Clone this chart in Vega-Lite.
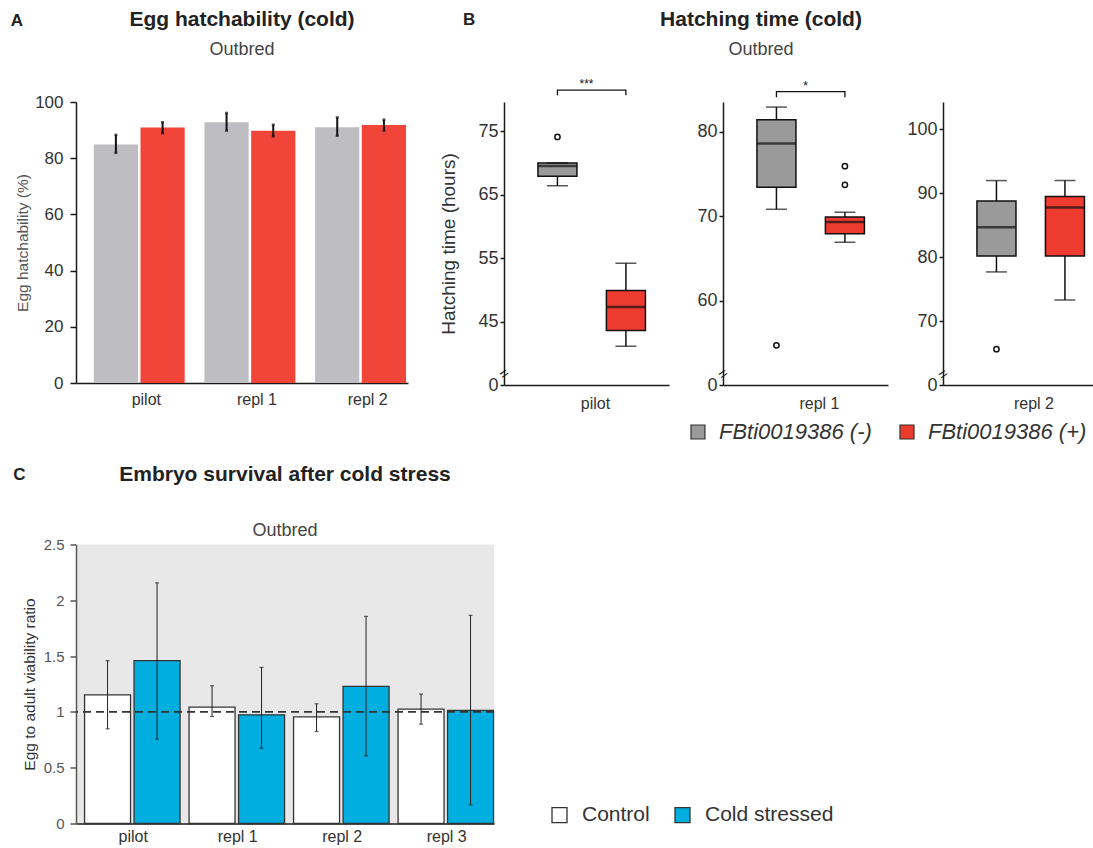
{
  "$schema": "https://vega.github.io/schema/vega-lite/v6.json",
  "background": "white",
  "padding": {"left": 10, "top": 8, "right": 0, "bottom": 0},
  "config": {
    "font": "Liberation Sans",
    "view": {"stroke": null},
    "axis": {"grid": false, "domainColor": "#1a1a1a", "tickColor": "#1a1a1a", "labelColor": "#333333", "titleColor": "#333333", "titleFontWeight": "normal", "domainWidth": 1.5, "tickWidth": 1.5},
    "title": {"color": "#222222", "subtitleColor": "#444444"}
  },
  "datasets": {
    "hatch": [
      {"replicate": "pilot", "genotype": "FBti0019386 (-)", "mean": 84.9, "lo": 81.9, "hi": 88.3},
      {"replicate": "pilot", "genotype": "FBti0019386 (+)", "mean": 90.9, "lo": 88.9, "hi": 92.8},
      {"replicate": "repl 1", "genotype": "FBti0019386 (-)", "mean": 92.8, "lo": 89.8, "hi": 96.1},
      {"replicate": "repl 1", "genotype": "FBti0019386 (+)", "mean": 89.8, "lo": 87.8, "hi": 91.9},
      {"replicate": "repl 2", "genotype": "FBti0019386 (-)", "mean": 91.0, "lo": 88.0, "hi": 94.5},
      {"replicate": "repl 2", "genotype": "FBti0019386 (+)", "mean": 91.8, "lo": 89.8, "hi": 93.7}
    ],
    "boxes": [
      {"replicate": "pilot", "genotype": "FBti0019386 (-)", "lower": 66.4, "q1": 67.9, "median": 69.5, "q3": 70.0, "upper": 70.0},
      {"replicate": "pilot", "genotype": "FBti0019386 (+)", "lower": 41.1, "q1": 43.6, "median": 47.3, "q3": 49.9, "upper": 54.2},
      {"replicate": "repl 1", "genotype": "FBti0019386 (-)", "lower": 70.8, "q1": 73.4, "median": 78.6, "q3": 81.4, "upper": 82.9},
      {"replicate": "repl 1", "genotype": "FBti0019386 (+)", "lower": 66.9, "q1": 67.9, "median": 69.3, "q3": 69.9, "upper": 70.45},
      {"replicate": "repl 2", "genotype": "FBti0019386 (-)", "lower": 77.7, "q1": 80.2, "median": 84.7, "q3": 88.8, "upper": 92.0},
      {"replicate": "repl 2", "genotype": "FBti0019386 (+)", "lower": 73.3, "q1": 80.2, "median": 87.8, "q3": 89.5, "upper": 92.0}
    ],
    "outliers": [
      {"replicate": "pilot", "genotype": "FBti0019386 (-)", "value": 74.1},
      {"replicate": "repl 1", "genotype": "FBti0019386 (-)", "value": 54.7},
      {"replicate": "repl 1", "genotype": "FBti0019386 (+)", "value": 75.9},
      {"replicate": "repl 1", "genotype": "FBti0019386 (+)", "value": 73.7},
      {"replicate": "repl 2", "genotype": "FBti0019386 (-)", "value": 65.6}
    ],
    "bracket": [
      {"replicate": "pilot", "genotype": "FBti0019386 (-)", "y": 80.67, "step": 1},
      {"replicate": "pilot", "genotype": "FBti0019386 (-)", "y": 81.46, "step": 2},
      {"replicate": "pilot", "genotype": "FBti0019386 (+)", "y": 81.46, "step": 3},
      {"replicate": "pilot", "genotype": "FBti0019386 (+)", "y": 80.67, "step": 4},
      {"replicate": "repl 1", "genotype": "FBti0019386 (-)", "y": 84.06, "step": 1},
      {"replicate": "repl 1", "genotype": "FBti0019386 (-)", "y": 84.73, "step": 2},
      {"replicate": "repl 1", "genotype": "FBti0019386 (+)", "y": 84.73, "step": 3},
      {"replicate": "repl 1", "genotype": "FBti0019386 (+)", "y": 84.06, "step": 4}
    ],
    "stars": [
      {"replicate": "pilot", "label": "***", "y": 82.4},
      {"replicate": "repl 1", "label": "*", "y": 85.4}
    ],
    "breaks": [
      {"replicate": "pilot", "y": 36.8},
      {"replicate": "repl 1", "y": 51.3},
      {"replicate": "repl 2", "y": 61.7}
    ],
    "survival": [
      {"replicate": "pilot", "treatment": "Control", "ratio": 1.153, "lo": 0.848, "hi": 1.459},
      {"replicate": "pilot", "treatment": "Cold stressed", "ratio": 1.459, "lo": 0.756, "hi": 2.156},
      {"replicate": "repl 1", "treatment": "Control", "ratio": 1.043, "lo": 0.959, "hi": 1.234},
      {"replicate": "repl 1", "treatment": "Cold stressed", "ratio": 0.974, "lo": 0.675, "hi": 1.399},
      {"replicate": "repl 2", "treatment": "Control", "ratio": 0.956, "lo": 0.824, "hi": 1.073},
      {"replicate": "repl 2", "treatment": "Cold stressed", "ratio": 1.228, "lo": 0.606, "hi": 1.856},
      {"replicate": "repl 3", "treatment": "Control", "ratio": 1.025, "lo": 0.890, "hi": 1.160},
      {"replicate": "repl 3", "treatment": "Cold stressed", "ratio": 1.013, "lo": 0.166, "hi": 1.865}
    ],
    "reference": [{"ratio": 1}]
  },
  "vconcat": [
    {
      "hconcat": [
        {
          "title": {"text": "A", "anchor": "start", "frame": "bounds", "offset": -21, "dx": -5, "fontSize": 17, "fontWeight": "bold", "color": "#222222"},
          "resolve": {"scale": {"fill": "independent", "xOffset": "independent"}, "legend": {"fill": "independent"}},
          "vconcat": [
            {
              "width": 332,
              "height": 281,
              "title": {"text": "Egg hatchability (cold)", "subtitle": "Outbred", "fontSize": 21, "fontWeight": "bold", "subtitleFontSize": 18, "subtitlePadding": 11, "offset": 34.5, "anchor": "middle", "frame": "group"},
              "data": {"name": "hatch"},
              "layer": [
                {
                  "mark": {"type": "bar"},
                  "encoding": {
                    "x": {"field": "replicate", "type": "nominal", "title": null, "scale": {"type": "band", "paddingInner": 0, "paddingOuter": 0}, "axis": {"labelAngle": 0, "ticks": false, "labelFontSize": 16, "labelPadding": 8, "labelOffset": 15}},
                    "xOffset": {"field": "genotype", "type": "nominal", "scale": {"domain": ["FBti0019386 (-)", "FBti0019386 (+)"], "range": [0, 110.67], "paddingInner": 0.0535, "paddingOuter": 0.2117, "align": 0.9}},
                    "y": {"field": "mean", "type": "quantitative", "stack": null, "title": "Egg hatchability (%)", "scale": {"domain": [0, 100], "nice": false}, "axis": {"values": [0, 20, 40, 60, 80, 100], "labelFontSize": 17, "tickSize": 6, "labelPadding": 7, "titleFontSize": 15.5, "titleColor": "#555555", "titlePadding": 4}},
                    "y2": {"datum": 0},
                    "fill": {"field": "genotype", "type": "nominal", "scale": {"domain": ["FBti0019386 (-)", "FBti0019386 (+)"], "range": ["#bebec2", "#f1453a"]}, "legend": null}
                  }
                },
                {
                  "mark": {"type": "rule", "color": "#111111", "strokeWidth": 2},
                  "encoding": {
                    "x": {"field": "replicate", "type": "nominal", "title": null, "scale": {"type": "band", "paddingInner": 0, "paddingOuter": 0}},
                    "xOffset": {"field": "genotype", "type": "nominal", "scale": {"domain": ["FBti0019386 (-)", "FBti0019386 (+)"], "range": [0, 110.67], "paddingInner": 0.0535, "paddingOuter": 0.2117, "align": 0.9}},
                    "y": {"field": "lo", "type": "quantitative", "title": "Egg hatchability (%)"},
                    "y2": {"field": "hi"}
                  }
                },
                {
                  "mark": {"type": "tick", "orient": "horizontal", "size": 3, "thickness": 2.5, "color": "#111111"},
                  "encoding": {
                    "x": {"field": "replicate", "type": "nominal", "title": null, "scale": {"type": "band", "paddingInner": 0, "paddingOuter": 0}},
                    "xOffset": {"field": "genotype", "type": "nominal", "scale": {"domain": ["FBti0019386 (-)", "FBti0019386 (+)"], "range": [0, 110.67], "paddingInner": 0.0535, "paddingOuter": 0.2117, "align": 0.9}},
                    "y": {"field": "lo", "type": "quantitative", "title": "Egg hatchability (%)"}
                  }
                },
                {
                  "mark": {"type": "tick", "orient": "horizontal", "size": 3, "thickness": 2.5, "color": "#111111"},
                  "encoding": {
                    "x": {"field": "replicate", "type": "nominal", "title": null, "scale": {"type": "band", "paddingInner": 0, "paddingOuter": 0}},
                    "xOffset": {"field": "genotype", "type": "nominal", "scale": {"domain": ["FBti0019386 (-)", "FBti0019386 (+)"], "range": [0, 110.67], "paddingInner": 0.0535, "paddingOuter": 0.2117, "align": 0.9}},
                    "y": {"field": "hi", "type": "quantitative", "title": "Egg hatchability (%)"}
                  }
                }
              ]
            }
          ]
        },
        {
          "title": {"text": "B", "anchor": "start", "frame": "bounds", "offset": -20, "dx": 24, "fontSize": 17, "fontWeight": "bold", "color": "#222222"},
          "resolve": {"scale": {"fill": "independent", "xOffset": "independent"}, "legend": {"fill": "independent"}},
          "vconcat": [
            {
              "title": {"text": "Hatching time (cold)", "subtitle": "Outbred", "fontSize": 21, "fontWeight": "bold", "subtitleFontSize": 18, "subtitlePadding": 11, "offset": 19.5, "anchor": "middle", "frame": "bounds", "dx": -8},
              "spacing": 18,
              "resolve": {"scale": {"y": "independent", "x": "independent", "xOffset": "independent", "fill": "shared"}, "legend": {"fill": "shared"}},
              "hconcat": [
                {
                  "width": 165,
                  "height": 283,
                  "layer": [
                    {
                      "data": {"name": "boxes"}, "transform": [{"filter": "datum.replicate == 'pilot'"}],
                      "mark": {"type": "rule", "color": "#111111", "strokeWidth": 1.5},
                      "encoding": {
                        "x": {"field": "replicate", "type": "nominal", "title": null, "scale": {"paddingInner": 0, "paddingOuter": 0}, "axis": {"labelAngle": 0, "ticks": false, "labelFontSize": 16, "labelPadding": 10, "labelOffset": 9}},
                        "xOffset": {"field": "genotype", "type": "nominal", "scale": {"domain": ["FBti0019386 (-)", "FBti0019386 (+)"], "paddingInner": 0.43, "paddingOuter": 0.42, "align": 0.59}},
                        "y": {"field": "lower", "type": "quantitative", "title": "Hatching time (hours)", "scale": {"domain": [35, 79.6], "nice": false, "zero": false}, "axis": {"values": [35, 45, 55, 65, 75], "labelExpr": "datum.value == 35 ? '0' : datum.label", "labelFontSize": 18, "tickSize": 4, "labelPadding": 2, "minExtent": 36, "titleFontSize": 19, "titlePadding": 10}},
                        "y2": {"field": "upper"}
                      }
                    },
                    {
                      "data": {"name": "boxes"}, "transform": [{"filter": "datum.replicate == 'pilot'"}],
                      "mark": {"type": "bar", "stroke": "#111111", "strokeWidth": 1.5},
                      "encoding": {
                        "x": {"field": "replicate", "type": "nominal", "title": null},
                        "xOffset": {"field": "genotype", "type": "nominal", "scale": {"domain": ["FBti0019386 (-)", "FBti0019386 (+)"], "paddingInner": 0.43, "paddingOuter": 0.42, "align": 0.59}},
                        "y": {"field": "q1", "type": "quantitative", "title": "Hatching time (hours)"},
                        "y2": {"field": "q3"},
                        "fill": {"field": "genotype", "type": "nominal", "scale": {"domain": ["FBti0019386 (-)", "FBti0019386 (+)"], "range": ["#9a9a9a", "#ee3b2f"]}, "legend": {"orient": "none", "legendX": 183, "legendY": 319, "direction": "horizontal", "title": null, "symbolType": "square", "symbolSize": 196, "symbolStrokeColor": "#333333", "symbolStrokeWidth": 1.2, "labelFontSize": 22, "labelFontStyle": "italic", "labelColor": "#333333", "labelOffset": 10, "columnPadding": 24, "padding": 0}}
                      }
                    },
                    {
                      "data": {"name": "boxes"}, "transform": [{"filter": "datum.replicate == 'pilot'"}],
                      "mark": {"type": "tick", "orient": "horizontal", "size": 39, "thickness": 2.5, "color": "#111111"},
                      "encoding": {
                        "x": {"field": "replicate", "type": "nominal", "title": null},
                        "xOffset": {"field": "genotype", "type": "nominal", "scale": {"domain": ["FBti0019386 (-)", "FBti0019386 (+)"], "paddingInner": 0.43, "paddingOuter": 0.42, "align": 0.59}},
                        "y": {"field": "median", "type": "quantitative", "title": "Hatching time (hours)"}
                      }
                    },
                    {
                      "data": {"name": "boxes"}, "transform": [{"filter": "datum.replicate == 'pilot'"}],
                      "mark": {"type": "tick", "orient": "horizontal", "size": 21, "thickness": 1.5, "color": "#111111"},
                      "encoding": {
                        "x": {"field": "replicate", "type": "nominal", "title": null},
                        "xOffset": {"field": "genotype", "type": "nominal", "scale": {"domain": ["FBti0019386 (-)", "FBti0019386 (+)"], "paddingInner": 0.43, "paddingOuter": 0.42, "align": 0.59}},
                        "y": {"field": "lower", "type": "quantitative", "title": "Hatching time (hours)"}
                      }
                    },
                    {
                      "data": {"name": "boxes"}, "transform": [{"filter": "datum.replicate == 'pilot'"}],
                      "mark": {"type": "tick", "orient": "horizontal", "size": 21, "thickness": 1.5, "color": "#111111"},
                      "encoding": {
                        "x": {"field": "replicate", "type": "nominal", "title": null},
                        "xOffset": {"field": "genotype", "type": "nominal", "scale": {"domain": ["FBti0019386 (-)", "FBti0019386 (+)"], "paddingInner": 0.43, "paddingOuter": 0.42, "align": 0.59}},
                        "y": {"field": "upper", "type": "quantitative", "title": "Hatching time (hours)"}
                      }
                    },
                    {
                      "data": {"name": "outliers"}, "transform": [{"filter": "datum.replicate == 'pilot'"}],
                      "mark": {"type": "point", "shape": "circle", "filled": false, "color": "#111111", "strokeWidth": 1.5, "size": 28, "opacity": 1},
                      "encoding": {
                        "x": {"field": "replicate", "type": "nominal", "title": null},
                        "xOffset": {"field": "genotype", "type": "nominal", "scale": {"domain": ["FBti0019386 (-)", "FBti0019386 (+)"], "paddingInner": 0.43, "paddingOuter": 0.42, "align": 0.59}},
                        "y": {"field": "value", "type": "quantitative", "title": "Hatching time (hours)"}
                      }
                    },
                    {
                      "data": {"name": "bracket"}, "transform": [{"filter": "datum.replicate == 'pilot'"}],
                      "mark": {"type": "line", "color": "#111111", "strokeWidth": 1.3},
                      "encoding": {
                        "x": {"field": "replicate", "type": "nominal", "title": null},
                        "xOffset": {"field": "genotype", "type": "nominal", "scale": {"domain": ["FBti0019386 (-)", "FBti0019386 (+)"], "paddingInner": 0.43, "paddingOuter": 0.42, "align": 0.59}},
                        "y": {"field": "y", "type": "quantitative", "title": "Hatching time (hours)"},
                        "order": {"field": "step", "type": "quantitative"}
                      }
                    },
                    {
                      "data": {"name": "stars"}, "transform": [{"filter": "datum.replicate == 'pilot'"}],
                      "mark": {"type": "text", "fontSize": 12, "color": "#111111", "baseline": "middle"},
                      "encoding": {
                        "x": {"field": "replicate", "type": "nominal", "title": null},
                        "y": {"field": "y", "type": "quantitative", "title": "Hatching time (hours)"},
                        "text": {"field": "label"}
                      }
                    },
                    {
                      "data": {"name": "breaks"}, "transform": [{"filter": "datum.replicate == 'pilot'"}],
                      "mark": {"type": "text", "text": "=", "angle": -35, "fontSize": 15, "color": "#111111", "baseline": "middle"},
                      "encoding": {
                        "x": {"field": "replicate", "type": "nominal", "title": null, "bandPosition": 0},
                        "y": {"field": "y", "type": "quantitative", "title": "Hatching time (hours)"}
                      }
                    }
                  ]
                },
                {
                  "width": 165,
                  "height": 283,
                  "layer": [
                    {
                      "data": {"name": "boxes"}, "transform": [{"filter": "datum.replicate == 'repl 1'"}],
                      "mark": {"type": "rule", "color": "#111111", "strokeWidth": 1.5},
                      "encoding": {
                        "x": {"field": "replicate", "type": "nominal", "title": null, "scale": {"paddingInner": 0, "paddingOuter": 0}, "axis": {"labelAngle": 0, "ticks": false, "labelFontSize": 16, "labelPadding": 10, "labelOffset": 14}},
                        "xOffset": {"field": "genotype", "type": "nominal", "scale": {"domain": ["FBti0019386 (-)", "FBti0019386 (+)"], "paddingInner": 0.43, "paddingOuter": 0.42, "align": 0.59}},
                        "y": {"field": "lower", "type": "quantitative", "title": null, "scale": {"domain": [50, 83.5], "nice": false, "zero": false}, "axis": {"values": [50, 60, 70, 80], "labelExpr": "datum.value == 50 ? '0' : datum.label", "labelFontSize": 18, "tickSize": 4, "labelPadding": 2, "minExtent": 36}},
                        "y2": {"field": "upper"}
                      }
                    },
                    {
                      "data": {"name": "boxes"}, "transform": [{"filter": "datum.replicate == 'repl 1'"}],
                      "mark": {"type": "bar", "stroke": "#111111", "strokeWidth": 1.5},
                      "encoding": {
                        "x": {"field": "replicate", "type": "nominal", "title": null},
                        "xOffset": {"field": "genotype", "type": "nominal", "scale": {"domain": ["FBti0019386 (-)", "FBti0019386 (+)"], "paddingInner": 0.43, "paddingOuter": 0.42, "align": 0.59}},
                        "y": {"field": "q1", "type": "quantitative", "title": null},
                        "y2": {"field": "q3"},
                        "fill": {"field": "genotype", "type": "nominal", "scale": {"domain": ["FBti0019386 (-)", "FBti0019386 (+)"], "range": ["#9a9a9a", "#ee3b2f"]}, "legend": {"orient": "none", "legendX": 183, "legendY": 319, "direction": "horizontal", "title": null, "symbolType": "square", "symbolSize": 196, "symbolStrokeColor": "#333333", "symbolStrokeWidth": 1.2, "labelFontSize": 22, "labelFontStyle": "italic", "labelColor": "#333333", "labelOffset": 10, "columnPadding": 24, "padding": 0}}
                      }
                    },
                    {
                      "data": {"name": "boxes"}, "transform": [{"filter": "datum.replicate == 'repl 1'"}],
                      "mark": {"type": "tick", "orient": "horizontal", "size": 39, "thickness": 2.5, "color": "#111111"},
                      "encoding": {
                        "x": {"field": "replicate", "type": "nominal", "title": null},
                        "xOffset": {"field": "genotype", "type": "nominal", "scale": {"domain": ["FBti0019386 (-)", "FBti0019386 (+)"], "paddingInner": 0.43, "paddingOuter": 0.42, "align": 0.59}},
                        "y": {"field": "median", "type": "quantitative", "title": null}
                      }
                    },
                    {
                      "data": {"name": "boxes"}, "transform": [{"filter": "datum.replicate == 'repl 1'"}],
                      "mark": {"type": "tick", "orient": "horizontal", "size": 21, "thickness": 1.5, "color": "#111111"},
                      "encoding": {
                        "x": {"field": "replicate", "type": "nominal", "title": null},
                        "xOffset": {"field": "genotype", "type": "nominal", "scale": {"domain": ["FBti0019386 (-)", "FBti0019386 (+)"], "paddingInner": 0.43, "paddingOuter": 0.42, "align": 0.59}},
                        "y": {"field": "lower", "type": "quantitative", "title": null}
                      }
                    },
                    {
                      "data": {"name": "boxes"}, "transform": [{"filter": "datum.replicate == 'repl 1'"}],
                      "mark": {"type": "tick", "orient": "horizontal", "size": 21, "thickness": 1.5, "color": "#111111"},
                      "encoding": {
                        "x": {"field": "replicate", "type": "nominal", "title": null},
                        "xOffset": {"field": "genotype", "type": "nominal", "scale": {"domain": ["FBti0019386 (-)", "FBti0019386 (+)"], "paddingInner": 0.43, "paddingOuter": 0.42, "align": 0.59}},
                        "y": {"field": "upper", "type": "quantitative", "title": null}
                      }
                    },
                    {
                      "data": {"name": "outliers"}, "transform": [{"filter": "datum.replicate == 'repl 1'"}],
                      "mark": {"type": "point", "shape": "circle", "filled": false, "color": "#111111", "strokeWidth": 1.5, "size": 28, "opacity": 1},
                      "encoding": {
                        "x": {"field": "replicate", "type": "nominal", "title": null},
                        "xOffset": {"field": "genotype", "type": "nominal", "scale": {"domain": ["FBti0019386 (-)", "FBti0019386 (+)"], "paddingInner": 0.43, "paddingOuter": 0.42, "align": 0.59}},
                        "y": {"field": "value", "type": "quantitative", "title": null}
                      }
                    },
                    {
                      "data": {"name": "bracket"}, "transform": [{"filter": "datum.replicate == 'repl 1'"}],
                      "mark": {"type": "line", "color": "#111111", "strokeWidth": 1.3},
                      "encoding": {
                        "x": {"field": "replicate", "type": "nominal", "title": null},
                        "xOffset": {"field": "genotype", "type": "nominal", "scale": {"domain": ["FBti0019386 (-)", "FBti0019386 (+)"], "paddingInner": 0.43, "paddingOuter": 0.42, "align": 0.59}},
                        "y": {"field": "y", "type": "quantitative", "title": null},
                        "order": {"field": "step", "type": "quantitative"}
                      }
                    },
                    {
                      "data": {"name": "stars"}, "transform": [{"filter": "datum.replicate == 'repl 1'"}],
                      "mark": {"type": "text", "fontSize": 12, "color": "#111111", "baseline": "middle"},
                      "encoding": {
                        "x": {"field": "replicate", "type": "nominal", "title": null},
                        "y": {"field": "y", "type": "quantitative", "title": null},
                        "text": {"field": "label"}
                      }
                    },
                    {
                      "data": {"name": "breaks"}, "transform": [{"filter": "datum.replicate == 'repl 1'"}],
                      "mark": {"type": "text", "text": "=", "angle": -35, "fontSize": 15, "color": "#111111", "baseline": "middle"},
                      "encoding": {
                        "x": {"field": "replicate", "type": "nominal", "title": null, "bandPosition": 0},
                        "y": {"field": "y", "type": "quantitative", "title": null}
                      }
                    }
                  ]
                },
                {
                  "width": 156,
                  "height": 283,
                  "layer": [
                    {
                      "data": {"name": "boxes"}, "transform": [{"filter": "datum.replicate == 'repl 2'"}],
                      "mark": {"type": "rule", "color": "#111111", "strokeWidth": 1.5},
                      "encoding": {
                        "x": {"field": "replicate", "type": "nominal", "title": null, "scale": {"paddingInner": 0, "paddingOuter": 0}, "axis": {"labelAngle": 0, "ticks": false, "labelFontSize": 16, "labelPadding": 10, "labelOffset": 13}},
                        "xOffset": {"field": "genotype", "type": "nominal", "scale": {"domain": ["FBti0019386 (-)", "FBti0019386 (+)"], "paddingInner": 0.43, "paddingOuter": 0.354, "align": 0.7}},
                        "y": {"field": "lower", "type": "quantitative", "title": null, "scale": {"domain": [60, 104.3], "nice": false, "zero": false}, "axis": {"values": [60, 70, 80, 90, 100], "labelExpr": "datum.value == 60 ? '0' : datum.label", "labelFontSize": 18, "tickSize": 4, "labelPadding": 2, "minExtent": 36}},
                        "y2": {"field": "upper"}
                      }
                    },
                    {
                      "data": {"name": "boxes"}, "transform": [{"filter": "datum.replicate == 'repl 2'"}],
                      "mark": {"type": "bar", "stroke": "#111111", "strokeWidth": 1.5},
                      "encoding": {
                        "x": {"field": "replicate", "type": "nominal", "title": null},
                        "xOffset": {"field": "genotype", "type": "nominal", "scale": {"domain": ["FBti0019386 (-)", "FBti0019386 (+)"], "paddingInner": 0.43, "paddingOuter": 0.354, "align": 0.7}},
                        "y": {"field": "q1", "type": "quantitative", "title": null},
                        "y2": {"field": "q3"},
                        "fill": {"field": "genotype", "type": "nominal", "scale": {"domain": ["FBti0019386 (-)", "FBti0019386 (+)"], "range": ["#9a9a9a", "#ee3b2f"]}, "legend": {"orient": "none", "legendX": 183, "legendY": 319, "direction": "horizontal", "title": null, "symbolType": "square", "symbolSize": 196, "symbolStrokeColor": "#333333", "symbolStrokeWidth": 1.2, "labelFontSize": 22, "labelFontStyle": "italic", "labelColor": "#333333", "labelOffset": 10, "columnPadding": 24, "padding": 0}}
                      }
                    },
                    {
                      "data": {"name": "boxes"}, "transform": [{"filter": "datum.replicate == 'repl 2'"}],
                      "mark": {"type": "tick", "orient": "horizontal", "size": 39, "thickness": 2.5, "color": "#111111"},
                      "encoding": {
                        "x": {"field": "replicate", "type": "nominal", "title": null},
                        "xOffset": {"field": "genotype", "type": "nominal", "scale": {"domain": ["FBti0019386 (-)", "FBti0019386 (+)"], "paddingInner": 0.43, "paddingOuter": 0.354, "align": 0.7}},
                        "y": {"field": "median", "type": "quantitative", "title": null}
                      }
                    },
                    {
                      "data": {"name": "boxes"}, "transform": [{"filter": "datum.replicate == 'repl 2'"}],
                      "mark": {"type": "tick", "orient": "horizontal", "size": 21, "thickness": 1.5, "color": "#111111"},
                      "encoding": {
                        "x": {"field": "replicate", "type": "nominal", "title": null},
                        "xOffset": {"field": "genotype", "type": "nominal", "scale": {"domain": ["FBti0019386 (-)", "FBti0019386 (+)"], "paddingInner": 0.43, "paddingOuter": 0.354, "align": 0.7}},
                        "y": {"field": "lower", "type": "quantitative", "title": null}
                      }
                    },
                    {
                      "data": {"name": "boxes"}, "transform": [{"filter": "datum.replicate == 'repl 2'"}],
                      "mark": {"type": "tick", "orient": "horizontal", "size": 21, "thickness": 1.5, "color": "#111111"},
                      "encoding": {
                        "x": {"field": "replicate", "type": "nominal", "title": null},
                        "xOffset": {"field": "genotype", "type": "nominal", "scale": {"domain": ["FBti0019386 (-)", "FBti0019386 (+)"], "paddingInner": 0.43, "paddingOuter": 0.354, "align": 0.7}},
                        "y": {"field": "upper", "type": "quantitative", "title": null}
                      }
                    },
                    {
                      "data": {"name": "outliers"}, "transform": [{"filter": "datum.replicate == 'repl 2'"}],
                      "mark": {"type": "point", "shape": "circle", "filled": false, "color": "#111111", "strokeWidth": 1.5, "size": 28, "opacity": 1},
                      "encoding": {
                        "x": {"field": "replicate", "type": "nominal", "title": null},
                        "xOffset": {"field": "genotype", "type": "nominal", "scale": {"domain": ["FBti0019386 (-)", "FBti0019386 (+)"], "paddingInner": 0.43, "paddingOuter": 0.354, "align": 0.7}},
                        "y": {"field": "value", "type": "quantitative", "title": null}
                      }
                    },
                    {
                      "data": {"name": "breaks"}, "transform": [{"filter": "datum.replicate == 'repl 2'"}],
                      "mark": {"type": "text", "text": "=", "angle": -35, "fontSize": 15, "color": "#111111", "baseline": "middle"},
                      "encoding": {
                        "x": {"field": "replicate", "type": "nominal", "title": null, "bandPosition": 0},
                        "y": {"field": "y", "type": "quantitative", "title": null}
                      }
                    }
                  ]
                }
              ]
            }
          ]
        }
      ],
      "spacing": 31,
      "resolve": {"scale": {"fill": "independent", "xOffset": "independent"}, "legend": {"fill": "independent"}}
    },
    {
      "title": {"text": "C", "anchor": "start", "frame": "bounds", "offset": -20, "dx": -9, "fontSize": 17, "fontWeight": "bold", "color": "#222222"},
      "resolve": {"scale": {"fill": "independent", "xOffset": "independent"}, "legend": {"fill": "independent"}},
      "vconcat": [
        {
          "width": 418,
          "height": 279,
          "view": {"fill": "#e8e8e8", "stroke": null},
          "title": {"text": "Embryo survival after cold stress", "subtitle": "Outbred", "fontSize": 21, "fontWeight": "bold", "subtitleFontSize": 18, "subtitlePadding": 37, "offset": -2, "anchor": "middle", "frame": "group"},
          "layer": [
            {
              "data": {"name": "survival"},
              "mark": {"type": "bar", "stroke": "#333333", "strokeWidth": 1.3},
              "encoding": {
                "x": {"field": "replicate", "type": "nominal", "title": null, "scale": {"type": "band", "paddingInner": 0, "paddingOuter": 0}, "axis": {"labelAngle": 0, "ticks": false, "labelFontSize": 16, "labelPadding": 5, "labelOffset": 5}},
                "xOffset": {"field": "treatment", "type": "nominal", "scale": {"domain": ["Control", "Cold stressed"], "range": [0, 104.5], "paddingInner": 0.0707, "paddingOuter": 0.091, "align": 0.95}},
                "y": {"field": "ratio", "type": "quantitative", "stack": null, "title": "Egg to adult viability ratio", "scale": {"domain": [0, 2.5], "nice": false}, "axis": {"values": [0, 0.5, 1, 1.5, 2, 2.5], "format": "~g", "labelFontSize": 15, "labelColor": "#555555", "tickSize": 6, "labelPadding": 6, "domainColor": "#555555", "tickColor": "#555555", "titleFontSize": 15.5, "titlePadding": 6}},
                "y2": {"datum": 0},
                "fill": {"field": "treatment", "type": "nominal", "scale": {"domain": ["Control", "Cold stressed"], "range": ["#ffffff", "#00afe0"]}, "legend": {"orient": "none", "legendX": 473, "legendY": 260, "direction": "horizontal", "title": null, "symbolType": "square", "symbolSize": 225, "symbolStrokeColor": "#333333", "symbolStrokeWidth": 1.3, "labelFontSize": 21, "labelColor": "#333333", "labelOffset": 12, "columnPadding": 22, "padding": 0}}
              }
            },
            {
              "data": {"name": "reference"},
              "mark": {"type": "rule", "color": "#333333", "strokeWidth": 1.8, "strokeDash": [8, 5]},
              "encoding": {
                "y": {"field": "ratio", "type": "quantitative", "title": "Egg to adult viability ratio"}
              }
            },
            {
              "data": {"name": "survival"},
              "mark": {"type": "rule", "color": "#222222", "strokeWidth": 1},
              "encoding": {
                "x": {"field": "replicate", "type": "nominal", "title": null, "scale": {"type": "band", "paddingInner": 0, "paddingOuter": 0}},
                "xOffset": {"field": "treatment", "type": "nominal", "scale": {"domain": ["Control", "Cold stressed"], "range": [0, 104.5], "paddingInner": 0.0707, "paddingOuter": 0.091, "align": 0.95}},
                "y": {"field": "lo", "type": "quantitative", "title": "Egg to adult viability ratio"},
                "y2": {"field": "hi"}
              }
            },
            {
              "data": {"name": "survival"},
              "mark": {"type": "tick", "orient": "horizontal", "size": 4, "thickness": 1.2, "color": "#222222"},
              "encoding": {
                "x": {"field": "replicate", "type": "nominal", "title": null, "scale": {"type": "band", "paddingInner": 0, "paddingOuter": 0}},
                "xOffset": {"field": "treatment", "type": "nominal", "scale": {"domain": ["Control", "Cold stressed"], "range": [0, 104.5], "paddingInner": 0.0707, "paddingOuter": 0.091, "align": 0.95}},
                "y": {"field": "lo", "type": "quantitative", "title": "Egg to adult viability ratio"}
              }
            },
            {
              "data": {"name": "survival"},
              "mark": {"type": "tick", "orient": "horizontal", "size": 4, "thickness": 1.2, "color": "#222222"},
              "encoding": {
                "x": {"field": "replicate", "type": "nominal", "title": null, "scale": {"type": "band", "paddingInner": 0, "paddingOuter": 0}},
                "xOffset": {"field": "treatment", "type": "nominal", "scale": {"domain": ["Control", "Cold stressed"], "range": [0, 104.5], "paddingInner": 0.0707, "paddingOuter": 0.091, "align": 0.95}},
                "y": {"field": "hi", "type": "quantitative", "title": "Egg to adult viability ratio"}
              }
            }
          ]
        }
      ]
    }
  ],
  "spacing": 20.5,
  "resolve": {"scale": {"fill": "independent", "xOffset": "independent"}, "legend": {"fill": "independent"}}
}
